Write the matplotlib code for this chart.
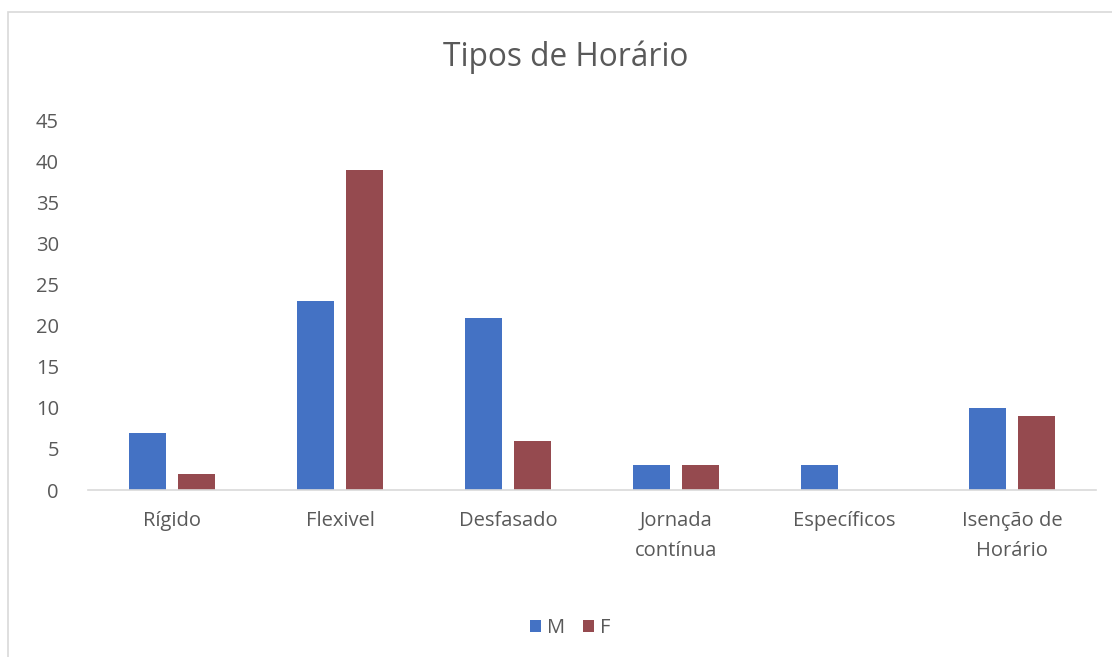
import numpy as np
import matplotlib.pyplot as plt
from matplotlib.patches import Rectangle

plt.rcParams['font.family'] = ['Open Sans', 'DejaVu Sans']

categorias = ['Rígido', 'Flexivel', 'Desfasado', 'Jornada\ncontínua', 'Específicos', 'Isenção de\nHorário']
valores_m = [7, 23, 21, 3, 3, 10]
valores_f = [2, 39, 6, 3, 0, 9]
yticks = [0, 5, 10, 15, 20, 25, 30, 35, 40, 45]

cinza = '#595959'
azul = '#4472C4'
vermelho = '#954A4F'

fig = plt.figure(figsize=(11.12, 6.57), dpi=100)
# moldura do gráfico (tipo excel)
fig.patches.append(Rectangle((8 / 1112, -0.1), 1.2, 1 - 12 / 657 + 0.1, transform=fig.transFigure,
                             fill=False, edgecolor='#D9D9D9', lw=1.2))

ax = fig.add_axes([88 / 1112, 1 - 490 / 657, 1008 / 1112, 369 / 657])
x = np.arange(len(categorias))
w = 0.22
off = 0.143
ax.bar(x - off, valores_m, w, color=azul, label='M')
ax.bar(x + off, valores_f, w, color=vermelho, label='F')

ax.set_xlim(-0.5, len(categorias) - 0.5)
ax.set_ylim(0, 45)
ax.set_yticks(yticks)
ax.set_xticks(x)
ax.set_xticklabels(categorias, linespacing=1.65)
for s in ['top', 'right', 'left']:
    ax.spines[s].set_visible(False)
ax.spines['bottom'].set_color('#D9D9D9')
ax.spines['bottom'].set_linewidth(1.2)
ax.tick_params(axis='both', length=0, labelsize=14.5, labelcolor=cinza)
ax.tick_params(axis='x', pad=15)
ax.tick_params(axis='y', pad=21)

fig.text(566 / 1112, 1 - 57 / 657, 'Tipos de Horário', ha='center', va='center', fontsize=22.8, color=cinza)

fig.legend(loc='center', bbox_to_anchor=(570 / 1112, 1 - 628 / 657), ncol=2, frameon=False,
           fontsize=14.5, labelcolor=cinza, handlelength=0.55, handleheight=0.55,
           handletextpad=0.3, columnspacing=0.9)

plt.savefig('out.png', dpi=100)
